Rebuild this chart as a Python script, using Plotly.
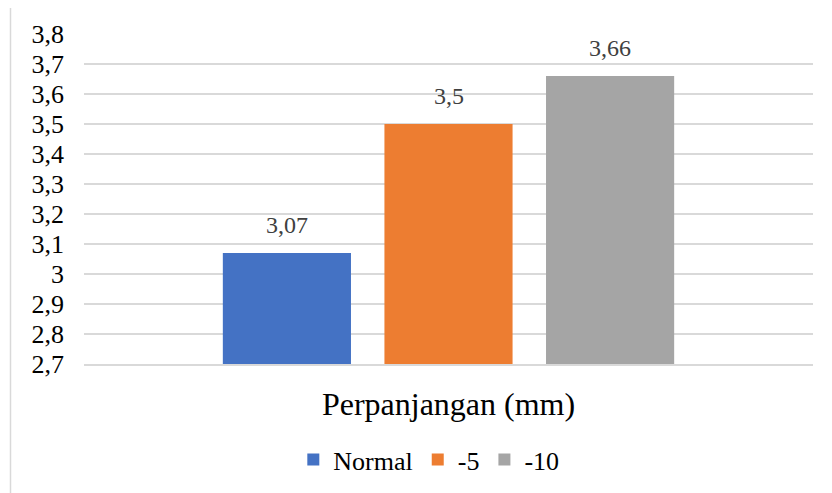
import plotly.graph_objects as go

category = ["Perpanjangan (mm)"]
series_names = ["Normal", "-5", "-10"]
series_values = [3.07, 3.5, 3.66]
value_labels = ["3,07", "3,5", "3,66"]
colors = ["#4472C4", "#ED7D31", "#A5A5A5"]
tick_vals = [2.7, 2.8, 2.9, 3.0, 3.1, 3.2, 3.3, 3.4, 3.5, 3.6, 3.7, 3.8]
tick_text = ["2,7", "2,8", "2,9", "3", "3,1", "3,2", "3,3", "3,4", "3,5", "3,6", "3,7", "3,8"]

FONT = "Liberation Serif, Times New Roman, serif"
OFF = 8  # page body margin
W, H = 832, 493
ML, MR, MT, MB = 84 - OFF, 19 + OFF, 34 - OFF, 129 + OFF
plot_w = W - ML - MR
plot_h = H - MT - MB
BARGAP = 0.335

fig = go.Figure()
for name, val, col in zip(series_names, series_values, colors):
    fig.add_trace(go.Bar(x=category, y=[val], name=name, marker_color=col,
                         marker_line_width=0))

slot_px = plot_w * (1 - BARGAP) / len(series_values)
for i, (val, lab) in enumerate(zip(series_values, value_labels)):
    fig.add_annotation(x=category[0], y=val, text=lab, showarrow=False,
                       xshift=(i - (len(series_values) - 1) / 2) * slot_px,
                       yshift=13, yanchor="bottom",
                       font=dict(family=FONT, size=24, color="#404040"))

# outer chart border (page coords -> figure coords)
bx0, by0 = 10.5 - OFF, 5.5 - OFF
fig.add_shape(type="rect", xref="paper", yref="paper",
              x0=(bx0 - ML) / plot_w, x1=(W + 20 - ML) / plot_w,
              y0=(MT + plot_h - (H + 20)) / plot_h, y1=(MT + plot_h - by0) / plot_h,
              line=dict(color="#D9D9D9", width=1.5), fillcolor="rgba(0,0,0,0)")

fig.update_layout(
    width=W, height=H,
    margin=dict(l=ML, r=MR, t=MT, b=MB),
    paper_bgcolor="white", plot_bgcolor="white",
    barmode="group", bargap=BARGAP, bargroupgap=0.207,
    font=dict(family=FONT, size=25, color="#000000"),
    showlegend=True,
    legend=dict(orientation="h", x=0.473, xanchor="center", y=-0.29, yanchor="middle",
                font=dict(family=FONT, size=26, color="#000000"),
                itemwidth=30, tracegroupgap=0),
)
fig.update_yaxes(range=[2.7, 3.8], tickvals=tick_vals, ticktext=tick_text,
                 showgrid=True, gridcolor="#D9D9D9", gridwidth=1.5,
                 zeroline=False, showline=False, ticks="",
                 ticklabelstandoff=19,
                 tickfont=dict(family=FONT, size=26, color="#000000"))
fig.update_xaxes(showline=True, linecolor="#D9D9D9", linewidth=1.5, ticks="",
                 ticklabelstandoff=11,
                 tickfont=dict(family=FONT, size=32, color="#000000"))

fig.write_html("out.html")
